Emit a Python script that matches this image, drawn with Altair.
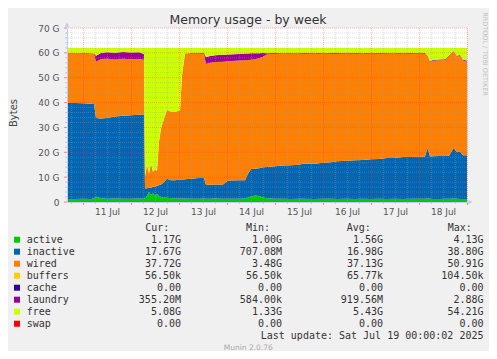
import altair as alt
import pandas as pd

# ---- time axis: hours since Thu Jul 10 16:00 (graph spans 200 h up to Jul 19 00:00)
hours = [0, 4, 8, 12, 13.5, 14.5, 17, 20, 24, 28,
         32, 36, 38.5, 39, 40, 41, 42, 43, 44, 45,
         46, 47, 48, 50, 52, 54, 56.5, 57.5, 59, 62,
         66, 68.5, 69.5, 71, 74, 78, 80.5, 86, 89, 90.5,
         92, 94, 96, 98, 100, 104, 108, 112, 116, 118,
         124, 128, 132, 135, 140, 144, 148, 152, 156, 160,
         164, 168, 172, 176, 179, 180.3, 181.5, 183, 186, 189,
         191, 193.3, 195, 196.5, 198, 200]

# ---- series values (GiB)
active = [1.2, 1.2, 1.3, 1.2, 1.5, 2.1, 1.5, 1.3, 1.4, 1.3,
          1.3, 1.4, 1.3, 1.5, 2.5, 4.0, 2.8, 3.5, 2.6, 3.3,
          2.4, 2.0, 1.8, 1.7, 1.5, 1.4, 1.4, 1.4, 1.4, 1.3,
          1.3, 1.4, 1.3, 1.3, 1.4, 1.3, 1.3, 1.3, 1.4, 1.8,
          2.2, 2.6, 2.4, 1.8, 1.5, 1.3, 1.3, 1.2, 1.3, 1.3,
          1.2, 1.3, 1.3, 1.2, 1.3, 1.2, 1.3, 1.2, 1.3, 1.2,
          1.3, 1.2, 1.3, 1.3, 1.3, 1.4, 1.3, 1.2, 1.2, 1.3,
          1.3, 1.4, 1.3, 1.2, 1.2, 1.17]
inactive = [38.7, 38.6, 38.4, 38.3, 37.9, 31.7, 32.1, 32.5, 33.0, 33.4,
            33.6, 33.7, 33.9, 3.9, 3.0, 1.8, 2.8, 2.7, 3.4, 3.2,
            4.3, 5.0, 5.8, 7.7, 7.2, 7.4, 7.7, 7.7, 7.8, 8.1,
            8.4, 8.3, 5.5, 5.6, 5.6, 5.7, 7.3, 7.4, 7.4, 9.6,
            11.1, 10.8, 11.2, 12.2, 12.6, 13.1, 13.4, 13.6, 13.7, 14.1,
            14.2, 14.5, 14.7, 15.2, 15.3, 15.6, 15.6, 16.0, 16.0, 16.5,
            16.4, 16.9, 16.8, 16.9, 17.0, 20.3, 17.0, 17.2, 17.3, 17.2,
            17.3, 20.3, 18.7, 19.1, 17.6, 17.67]
wired = [20.0, 20.0, 20.1, 20.1, 20.1, 22.6, 23.9, 23.8, 22.9, 22.9,
         22.5, 22.4, 22.0, 5.1, 9.3, 5.6, 9.8, 5.9, 7.0, 6.0,
         17.5, 22.5, 24.6, 27.5, 27.5, 27.4, 27.5, 41.9, 50.2, 50.3,
         50.0, 49.9, 48.7, 49.0, 49.3, 49.4, 48.0, 48.2, 48.2, 45.7,
         43.9, 44.0, 44.2, 44.4, 45.3, 45.2, 44.8, 44.9, 44.5, 44.2,
         44.3, 43.7, 43.6, 43.2, 43.1, 42.8, 42.6, 42.5, 42.3, 42.0,
         41.8, 41.6, 41.5, 41.3, 41.3, 36.8, 38.0, 38.4, 38.5, 38.6,
         40.0, 38.6, 38.4, 38.7, 38.1, 37.72]
laundry = [0.1, 0.1, 0.2, 0.2, 0.2, 2.4, 2.4, 2.6, 2.7, 2.7,
           2.7, 2.7, 2.3, 0.1, 0.1, 0.1, 0.1, 0.1, 0.1, 0.1,
           0.1, 0.1, 0.1, 0.1, 0.1, 0.1, 0.1, 0.1, 0.2, 0.2,
           0.2, 0.3, 2.8, 2.7, 2.7, 2.8, 2.7, 2.6, 2.7, 2.6,
           2.6, 2.4, 2.0, 1.5, 0.4, 0.3, 0.3, 0.2, 0.3, 0.3,
           0.3, 0.3, 0.3, 0.3, 0.3, 0.3, 0.3, 0.3, 0.3, 0.2,
           0.3, 0.3, 0.3, 0.3, 0.3, 0.3, 0.3, 0.3, 0.3, 0.3,
           0.3, 0.3, 0.3, 0.3, 0.3, 0.36]
free = [2.0, 2.1, 2.0, 2.2, 2.3, 3.2, 2.1, 1.8, 2.0, 1.7,
        1.9, 1.8, 2.5, 51.4, 47.1, 50.5, 46.5, 49.8, 48.9, 49.4,
        37.7, 32.4, 29.7, 25.0, 25.7, 25.7, 25.3, 10.9, 2.4, 2.1,
        2.1, 2.1, 3.7, 3.4, 3.0, 2.8, 2.7, 2.5, 2.3, 2.3,
        2.2, 2.2, 2.2, 2.1, 2.2, 2.1, 2.2, 2.1, 2.2, 2.1,
        2.0, 2.2, 2.1, 2.1, 2.0, 2.1, 2.2, 2.0, 2.1, 2.1,
        2.2, 2.0, 2.1, 2.2, 2.1, 3.2, 5.4, 4.9, 4.7, 4.6,
        3.1, 1.4, 3.3, 2.7, 4.8, 5.08]

# ---- legend / statistics table
names = ["active", "inactive", "wired", "buffers", "cache", "laundry", "free", "swap"]
colors = ["#00CC00", "#0066B3", "#FF8000", "#FFCC00", "#330099", "#990099", "#CCFF00", "#FF0000"]
cur = ["1.17G", "17.67G", "37.72G", "56.50k", "0.00", "355.20M", "5.08G", "0.00"]
mins = ["1.00G", "707.08M", "3.48G", "56.50k", "0.00", "584.00k", "1.33G", "0.00"]
avgs = ["1.56G", "16.98G", "37.13G", "65.77k", "0.00", "919.56M", "5.43G", "0.00"]
maxs = ["4.13G", "38.80G", "50.91G", "104.50k", "0.00", "2.88G", "54.21G", "0.00"]

# ---- axis ticks / grid
noon_hours = [20, 44, 68, 92, 116, 140, 164, 188]
day_labels = ["11 Jul", "12 Jul", "13 Jul", "14 Jul", "15 Jul", "16 Jul", "17 Jul", "18 Jul"]
midnight_hours = [8, 32, 56, 80, 104, 128, 152, 176, 200]
six_hour_ticks = [2, 14, 20, 26, 38, 44, 50, 62, 68, 74, 86, 92, 98, 110, 116, 122,
                  134, 140, 146, 158, 164, 170, 182, 188, 194]
y_major = [0, 10, 20, 30, 40, 50, 60, 70]
y_minor = [2, 4, 6, 8, 12, 14, 16, 18, 22, 24, 26, 28, 32, 34, 36, 38, 42, 44, 46, 48,
           52, 54, 56, 58, 62, 64, 66, 68]

W, H = 400, 174
PL, PT = 59, 20
MONO = "DejaVu Sans Mono"
SANS = "DejaVu Sans"
AXIS_BLUE = "#c4cbf2"

# ---- long data for stacked areas
series = [("active", active), ("inactive", inactive), ("wired", wired),
          ("laundry", laundry), ("free", free)]
rows = []
for name, vals in series:
    for h, v in zip(hours, vals):
        rows.append({"hour": h, "series": name, "value": v, "idx": names.index(name)})
df = pd.DataFrame(rows)

xscale = alt.Scale(domain=[0, 200], nice=False, zero=False)
yscale = alt.Scale(domain=[0, 70], nice=False)

label_expr_x = " : ".join(f"datum.value == {h} ? '{l}'" for h, l in zip(noon_hours, day_labels)) + " : ''"

areas = alt.Chart(df).mark_area(interpolate="linear", strokeWidth=0).encode(
    x=alt.X("hour:Q", scale=xscale, axis=alt.Axis(
        values=noon_hours, labelExpr=label_expr_x, ticks=False, grid=False,
        domain=True, domainColor=AXIS_BLUE, domainWidth=1,
        labelFont=SANS, labelFontSize=9, labelColor="#555555", labelPadding=5,
        title=None, orient="bottom", zindex=1)),
    y=alt.Y("value:Q", stack="zero", scale=yscale, axis=alt.Axis(
        values=y_major, labelExpr="datum.value == 0 ? '0' : datum.value + ' G'",
        ticks=False, grid=False, domain=True, domainColor=AXIS_BLUE, domainWidth=1,
        labelFont=SANS, labelFontSize=9,
        labelColor="#555555", labelPadding=8, title=None, orient="left", zindex=1)),
    color=alt.Color("series:N", scale=alt.Scale(domain=names, range=colors), legend=None),
    order=alt.Order("idx:Q"),
)

def vgrid(vals, color, opacity, tick_len, tick_color):
    d = pd.DataFrame({"v": vals})
    line = alt.Chart(d).mark_rule(color=color, opacity=opacity, strokeDash=[1, 1],
                                  strokeWidth=1, xOffset=0.5).encode(
        x=alt.X("v:Q", scale=xscale, axis=None))
    tick = alt.Chart(d).mark_rule(color=tick_color, strokeWidth=1, xOffset=0.5).encode(
        x=alt.X("v:Q", scale=xscale, axis=None), y=alt.value(H), y2=alt.value(H + tick_len))
    return [line, tick]

def hgrid(vals, color, opacity, tick_len, tick_color):
    d = pd.DataFrame({"v": vals})
    line = alt.Chart(d).mark_rule(color=color, opacity=opacity, strokeDash=[1, 1],
                                  strokeWidth=1).encode(
        y=alt.Y("v:Q", scale=yscale, axis=None))
    tick = alt.Chart(d).mark_rule(color=tick_color, strokeWidth=1).encode(
        y=alt.Y("v:Q", scale=yscale, axis=None), x=alt.value(-tick_len), x2=alt.value(0))
    return [line, tick]

grid_layers = (vgrid(six_hour_ticks, "#a0a0a0", 0.35, 2, "#c8c8c8")
               + hgrid(y_minor, "#a0a0a0", 0.35, 2, "#c8c8c8")
               + vgrid(midnight_hours, "#ff3030", 0.35, 3, "#ff8080")
               + hgrid(y_major, "#ff3030", 0.35, 3, "#ff8080"))

# axis arrow heads
arrow_up = alt.Chart(pd.DataFrame({"a": [0]})).mark_point(
    shape="triangle-up", filled=True, size=22, color=AXIS_BLUE, opacity=1).encode(
    x=alt.value(0), y=alt.value(-3.5))
arrow_right = alt.Chart(pd.DataFrame({"a": [0]})).mark_point(
    shape="triangle-right", filled=True, size=22, color=AXIS_BLUE, opacity=1).encode(
    x=alt.value(W + 3.5), y=alt.value(H))
yaxis_ext = alt.Chart(pd.DataFrame({"a": [0]})).mark_rule(color=AXIS_BLUE).encode(
    x=alt.value(0), y=alt.value(-2), y2=alt.value(0))
xaxis_ext = alt.Chart(pd.DataFrame({"a": [0]})).mark_rule(color=AXIS_BLUE).encode(
    x=alt.value(W), x2=alt.value(W + 2), y=alt.value(H))

# texts
def txt(text, x, y, **kw):
    return alt.Chart(pd.DataFrame({"t": [text]})).mark_text(**kw).encode(
        text="t:N", x=alt.value(x), y=alt.value(y))

title = txt("Memory usage - by week", 181, -8.5, font=SANS, fontSize=12.5, color="#333333",
            align="center", baseline="middle")
ytitle = txt("Bytes", -53, 85, font=SANS, fontSize=10, color="#444444", angle=270,
             align="center", baseline="middle")
rrd = txt("RRDTOOL / TOBI OETIKER", 417.5, 26, font=SANS, fontSize=6.5, color="#c0c0c0",
          angle=90, align="center", baseline="middle")
lastupd = txt("Last update: Sat Jul 19 00:00:02 2025", 416.5, 307.7, font=MONO, fontSize=10,
              color="#333333", align="right", baseline="middle")
munin = txt("Munin 2.0.76", 181.3, 320, font=SANS, fontSize=7.5, color="#aaaaaa",
            align="center", baseline="middle")

hdr = pd.DataFrame({"t": ["Cur:", "Min:", "Avg:", "Max:"], "x": [78.3, 179, 279.7, 380.7]})
header = alt.Chart(hdr).mark_text(font=MONO, fontSize=10, color="#333333", align="left",
                                  baseline="middle").encode(
    text="t:N", x=alt.X("x:Q", scale=None), y=alt.value(200.3))

ROW0, STEP = 211.7, 12
leg = pd.DataFrame({"name": names, "color": colors, "row": list(range(len(names)))})
leg["ty"] = ROW0 + STEP * leg["row"]
squares = alt.Chart(leg).mark_square(size=36, opacity=1).encode(
    x=alt.value(-50), y=alt.Y("ty:Q", scale=None),
    color=alt.Color("color:N", scale=None, legend=None))
labels = alt.Chart(leg).mark_text(font=MONO, fontSize=10, color="#333333", align="left",
                                  baseline="middle").encode(
    text="name:N", x=alt.value(-40.3), y=alt.Y("ty:Q", scale=None))

def pad(s):
    return s if s[-1].isalpha() else s + "\u00a0"

stat_rows = []
for col_vals, xr in [(cur, 114), (mins, 215), (avgs, 316), (maxs, 416.5)]:
    for i, s in enumerate(col_vals):
        stat_rows.append({"t": pad(s), "x": xr, "ty": ROW0 + STEP * i})
stats = alt.Chart(pd.DataFrame(stat_rows)).mark_text(
    font=MONO, fontSize=10, color="#333333", align="right", baseline="middle").encode(
    text="t:N", x=alt.X("x:Q", scale=None), y=alt.Y("ty:Q", scale=None))

chart = alt.layer(
    areas, *grid_layers, yaxis_ext, xaxis_ext, arrow_up, arrow_right,
    title, ytitle, rrd, lastupd, munin, header, squares, labels, stats
).resolve_scale(x="independent", y="independent", color="independent"
).resolve_axis(x="independent", y="independent").properties(
    width=W, height=H,
    autosize=alt.AutoSizeParams(type="none"),
    padding={"left": PL, "top": PT, "right": 22, "bottom": 149},
    background="#F0F0F0",
).configure_view(fill="#FFFFFF", stroke=None)

chart.save("out.html", embed_options={"renderer": "svg", "actions": False})
